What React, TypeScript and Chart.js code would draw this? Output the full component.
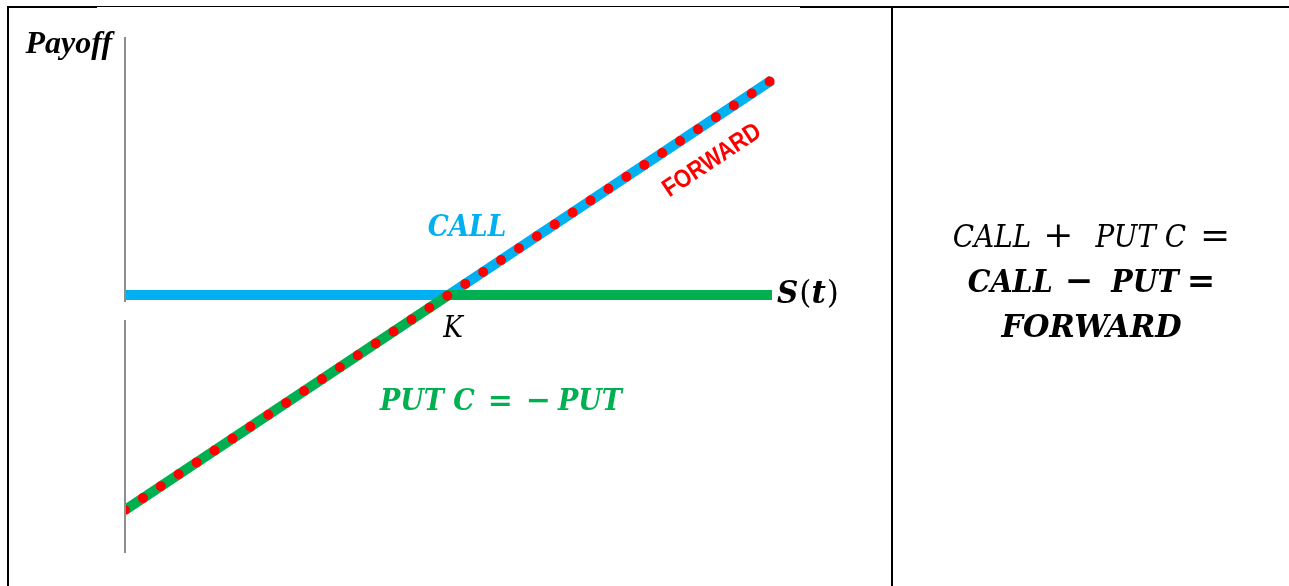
import React, { useEffect, useRef } from "react";
import { Chart, registerables } from "chart.js";

Chart.register(...registerables);

// ---- data ----
const spotValues = [0, 1, 2]; // S(t): 0, K, 2K
const callPayoff = [0, 0, 1];
const shortPutPayoff = [-1, 0, 0];
const forwardPayoff = [-1, 0, 1];
const xRange = [0, 2];
const yRange = [-1.2, 1.2];

const seriesNames = ["FORWARD", "PUT C", "CALL"];
const axisTitle = "Payoff";
const strikeLabel = "K";

const COLORS = {
  call: "#00B0F0",
  put: "#00B050",
  forward: "#FF0000",
  axis: "#8E8E8E",
};

const MATH = "'DejaVu Serif', serif";

// a run: text, font style, size, horizontal scale ; or a number = gap in px
type Run = [string, string, number, number] | number;

function drawRuns(
  ctx: CanvasRenderingContext2D,
  runs: Run[],
  x: number,
  y: number,
  family: string,
  color: string,
  align: "left" | "center" | "right"
) {
  ctx.save();
  ctx.fillStyle = color;
  ctx.textBaseline = "alphabetic";
  ctx.textAlign = "left";
  const widths: number[] = [];
  let total = 0;
  for (const r of runs) {
    if (typeof r === "number") {
      widths.push(r);
      total += r;
    } else {
      const [t, s, size, sx] = r;
      ctx.font = `${s} ${size}px ${family}`;
      const w = ctx.measureText(t).width * sx;
      widths.push(w);
      total += w;
    }
  }
  let cx = align === "left" ? x : align === "center" ? x - total / 2 : x - total;
  runs.forEach((r, i) => {
    if (typeof r !== "number") {
      const [t, s, size, sx] = r;
      ctx.save();
      ctx.font = `${s} ${size}px ${family}`;
      ctx.translate(cx, y);
      ctx.scale(sx, 1);
      ctx.fillText(t, 0, 0);
      ctx.restore();
    }
    cx += widths[i];
  });
  ctx.restore();
}

const overlayPlugin = {
  id: "overlay",
  beforeDraw(chart: any) {
    const ctx: CanvasRenderingContext2D = chart.ctx;
    const W = chart.width;
    const H = chart.height;
    ctx.save();
    ctx.fillStyle = "#000";
    // table borders
    ctx.fillRect(7, 6, 90, 2);
    ctx.fillRect(97, 6, 703, 1);
    ctx.fillRect(800, 6, W - 800, 2);
    ctx.fillRect(7, 6, 2, H - 6);
    ctx.fillRect(891, 6, 2, H - 6);
    ctx.restore();

    // right cell text
    const cx = (892 + W) / 2 + 1;
    drawRuns(
      ctx,
      [["CALL", "italic", 31, 0.9], 12, ["+", "normal", 36, 1], 22, ["PUT C", "italic", 31, 0.9], 14, ["=", "normal", 36, 1]],
      cx, 247, MATH, "#000", "center"
    );
    drawRuns(
      ctx,
      [["CALL", "italic bold", 31, 0.92], 12, ["−", "bold", 34, 1], 18, ["PUT", "italic bold", 31, 0.92], 8, ["=", "bold", 34, 1]],
      cx, 292, MATH, "#000", "center"
    );
    drawRuns(ctx, [["FORWARD", "italic bold", 31, 0.98]], cx, 337, MATH, "#000", "center");
  },
  afterDatasetsDraw(chart: any) {
    const ctx: CanvasRenderingContext2D = chart.ctx;
    const xs = chart.scales.x;
    const ys = chart.scales.y;
    const area = chart.chartArea;
    const px = (v: number) => xs.getPixelForValue(v);
    const py = (v: number) => ys.getPixelForValue(v);
    const x0 = px(xRange[0]);
    const y0 = py(0);

    // vertical payoff axis (with a gap below the zero line)
    ctx.save();
    ctx.strokeStyle = COLORS.axis;
    ctx.lineWidth = 2;
    ctx.beginPath();
    ctx.moveTo(x0, area.top);
    ctx.lineTo(x0, y0 + 7);
    ctx.moveTo(x0, y0 + 25);
    ctx.lineTo(x0, area.bottom);
    ctx.stroke();
    ctx.restore();

    // axis title
    ctx.save();
    ctx.fillStyle = "#000";
    ctx.font = "italic bold 32px 'Liberation Serif', serif";
    ctx.textAlign = "right";
    ctx.textBaseline = "alphabetic";
    ctx.fillText(axisTitle, px(-0.04), py(1.126));
    ctx.restore();

    // series labels
    drawRuns(ctx, [[seriesNames[2], "italic bold", 30, 0.88]], px(1.057), py(0.274), MATH, COLORS.call, "center");
    drawRuns(
      ctx,
      [["PUT C", "italic bold", 30, 0.9], 13, ["=", "bold", 30, 1], 13, ["−", "bold", 30, 1], 7, ["PUT", "italic bold", 30, 0.9]],
      px(1.162), py(-0.535), MATH, COLORS.put, "center"
    );
    drawRuns(ctx, [[strikeLabel, "italic", 30, 0.88]], px(1.014), py(-0.195), MATH, "#000", "center");
    drawRuns(
      ctx,
      [["S", "italic bold", 31, 0.95], 1, ["(", "normal", 31, 1], ["t", "italic bold", 31, 1], 1, [")", "normal", 31, 1]],
      px(2.0155), py(-0.037), MATH, "#000", "left"
    );

    // FORWARD label rotated along the forward line
    const ang = Math.atan2(py(forwardPayoff[2]) - py(forwardPayoff[1]), px(spotValues[2]) - px(spotValues[1]));
    ctx.save();
    ctx.translate(px(1.815), py(0.625));
    ctx.rotate(ang);
    ctx.scale(0.95, 1.1);
    ctx.fillStyle = COLORS.forward;
    ctx.font = "bold 23px 'Liberation Sans', Arial, sans-serif";
    ctx.textAlign = "center";
    ctx.textBaseline = "middle";
    ctx.fillText(seriesNames[0], 0, 0);
    ctx.restore();
  },
};

export default function App() {
  const ref = useRef<HTMLCanvasElement>(null);
  useEffect(() => {
    if (!ref.current) return;
    const toPts = (ys: number[]) => spotValues.map((x, i) => ({ x, y: ys[i] }));
    const clip = { left: 0, top: 20, right: 20, bottom: 20 } as any;
    const chart = new Chart(ref.current, {
      type: "line",
      data: {
        datasets: [
          {
            label: seriesNames[0],
            data: toPts(forwardPayoff),
            borderColor: COLORS.forward,
            borderWidth: 10,
            borderDash: [0, 21.5],
            borderCapStyle: "round",
            pointRadius: 0,
            tension: 0,
            order: 0,
            clip,
          },
          {
            label: seriesNames[1],
            data: toPts(shortPutPayoff),
            borderColor: COLORS.put,
            borderWidth: 10,
            borderCapStyle: "butt",
            pointRadius: 0,
            tension: 0,
            order: 1,
            clip,
          },
          {
            label: seriesNames[2],
            data: toPts(callPayoff),
            borderColor: COLORS.call,
            borderWidth: 10,
            borderCapStyle: "butt",
            pointRadius: 0,
            tension: 0,
            order: 2,
            clip,
          },
        ] as any,
      },
      options: {
        animation: false,
        responsive: false,
        devicePixelRatio: 1,
        layout: { padding: { left: 125, right: 517, top: 37, bottom: 33 } },
        scales: {
          x: { type: "linear", min: xRange[0], max: xRange[1], display: false },
          y: { type: "linear", min: yRange[0], max: yRange[1], display: false },
        },
        plugins: {
          legend: { display: false },
          tooltip: { enabled: false },
        },
        events: [],
      },
      plugins: [overlayPlugin],
    });
    return () => chart.destroy();
  }, []);

  return (
    <div style={{ position: "fixed", left: 0, top: 0, width: 1289, height: 586, background: "#fff" }}>
      <canvas ref={ref} width={1289} height={586} style={{ display: "block", width: 1289, height: 586 }} />
    </div>
  );
}
